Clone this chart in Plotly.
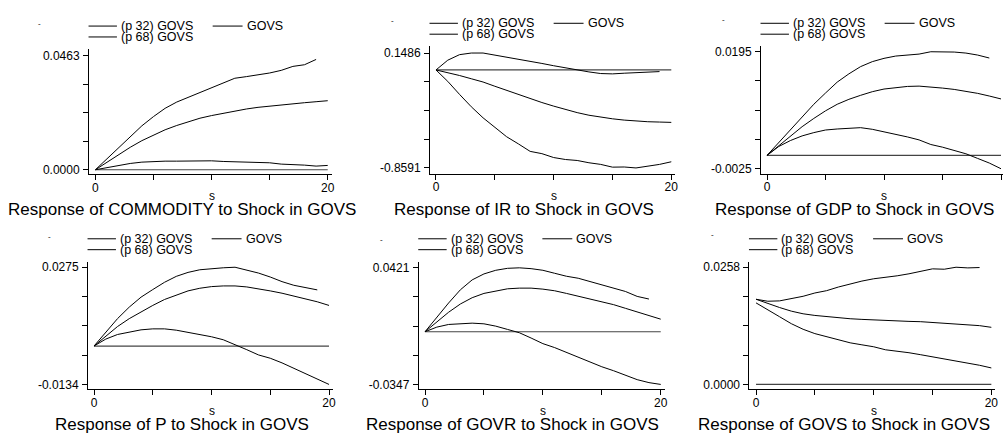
import numpy as np
import plotly.graph_objects as go

W, H = 1006, 434
FONT = "Liberation Sans, Arial, Helvetica, sans-serif"

# ---------------- data ----------------
steps = list(range(21))
steps_hi = list(range(20))          # upper band is drawn through step 19
zero_steps = [0, 20]
zero_vals = [0, 0]

x_tick_vals = [0, 5, 10, 15, 20]
x_tick_text = ["0", "", "", "", "20"]

series_names = ["(p 32) GOVS", "GOVS", "(p 68) GOVS"]

titles = [
    "Response of COMMODITY to Shock in GOVS",
    "Response of IR to Shock in GOVS",
    "Response of GDP to Shock in GOVS",
    "Response of P to Shock in GOVS",
    "Response of GOVR to Shock in GOVS",
    "Response of GOVS to Shock in GOVS",
]
y_label_min = [0.0000, -0.8591, -0.0025, -0.0134, -0.0347, 0.0000]
y_label_max = [0.0463, 0.1486, 0.0195, 0.0275, 0.0421, 0.0258]

commodity_hi = [0, .00442, .0091, .01352, .0178, .02154, .02489, .02743, .0293, .03118,
                .03319, .03519, .03707, .03774, .0384, .03921, .04028, .04188, .04255, .0447]
commodity_mid = [0, .00308, .00616, .0091, .01178, .01405, .01619, .01793, .01954, .02088, .02195,
                 .02288, .02382, .02462, .02529, .02583, .02636, .02676, .02716, .02757, .02797]
commodity_lo = [0, .0008, .00187, .00254, .00308, .00335, .00348, .00348, .00361, .00375, .00361,
                .00335, .00321, .00308, .00281, .00281, .00227, .00214, .00187, .00147, .00174]

ir_hi = [0, .0856, .1342, .1484, .1486, .1313, .1113, .0942, .0771, .0571,
         .0371, .0171, -.0029, -.0171, -.0314, -.0343, -.0285, -.0257, -.0228, -.0143]
ir_mid = [0, -.0228, -.0485, -.0771, -.1056, -.1427, -.1798, -.217, -.2512, -.2855, -.3169,
          -.3483, -.374, -.3968, -.4139, -.4282, -.4396, -.4482, -.4539, -.4568, -.4596]
ir_lo = [0, -.0999, -.2141, -.3226, -.4196, -.5053, -.5852, -.648, -.7137, -.7337, -.7679,
         -.785, -.7936, -.8136, -.8279, -.852, -.8507, -.8591, -.845, -.8279, -.805]

gdp_hi = [0, .00242, .0049, .00725, .0096, .01171, .01376, .01531, .01667, .0176,
          .01822, .01865, .01884, .01902, .01946, .0195, .0194, .01921, .01884, .01828]
gdp_mid = [0, .0018, .00366, .00539, .00694, .00837, .0096, .01053, .01128, .01196, .01246,
           .01277, .01295, .01301, .01289, .01264, .01239, .01208, .01165, .01115, .0106]
gdp_lo = [0, .00167, .00279, .00366, .00428, .00477, .00496, .00508, .00521, .0049, .00446,
          .0039, .00347, .00291, .00205, .00155, .00093, .00031, -.00056, -.00143, -.0025]

p_hi = [0, .00495, .00956, .01359, .01705, .0197, .02224, .02431, .02569, .02661,
        .02707, .0273, .0275, .02661, .02546, .02408, .02247, .0212, .02039, .01959]
p_mid = [0, .00357, .0068, .00956, .01198, .01417, .01624, .01786, .01924, .02016, .02074,
         .02097, .02097, .02062, .02005, .01924, .01843, .01751, .01659, .01544, .01417]
p_lo = [0, .00242, .00403, .00495, .00565, .00599, .00599, .00553, .00484, .00415, .00323,
        .00219, .00058, -.00127, -.00311, -.00426, -.00588, -.00772, -.00956, -.01141, -.0134]

govr_hi = [0, .00957, .01893, .02763, .03416, .03807, .04047, .04177, .0421, .04155,
           .04047, .03851, .03655, .03524, .03307, .03068, .0285, .02654, .02328, .02154]
govr_mid = [0, .00674, .01284, .01828, .02241, .02524, .02698, .02828, .02872, .02872, .02807,
            .02698, .02524, .0235, .02176, .0198, .01784, .01545, .01305, .01066, .00827]
govr_lo = [0, .00305, .00479, .00544, .00566, .00522, .0037, .00152, -.00065, -.00413, -.00783,
           -.01044, -.01371, -.01653, -.0198, -.02306, -.02567, -.0285, -.03155, -.0335, -.0347]

govs_hi = [.01875, .01831, .01839, .0189, .0194, .02013, .02064, .02144, .02217, .02275,
           .02326, .02355, .02391, .02435, .02486, .02544, .02536, .0258, .02565, .02573]
govs_mid = [.01875, .01781, .01693, .01613, .01555, .01519, .0149, .01468, .01446, .01432, .01417,
            .0141, .01395, .01388, .01381, .01366, .01352, .01337, .01315, .01294, .01257]
govs_lo = [.01795, .01635, .0149, .01337, .01214, .01119, .01047, .00974, .00916, .00872, .00829,
           .00763, .00734, .00698, .00654, .0061, .0056, .00523, .00472, .00422, .00363]

panels_hi = [commodity_hi, ir_hi, gdp_hi, p_hi, govr_hi, govs_hi]
panels_mid = [commodity_mid, ir_mid, gdp_mid, p_mid, govr_mid, govs_mid]
panels_lo = [commodity_lo, ir_lo, gdp_lo, p_lo, govr_lo, govs_lo]

# ---------------- layout geometry (pixels) ----------------
geom = [
    dict(L=89.3, x0=95.7, x20=328.7, T=48.3, yt=55.0, yb=170.3, B=175.0, dash=(39.3, 22.7)),
    dict(L=431.3, x0=437.3, x20=673.3, T=45.5, yt=52.5, yb=168.5, B=174.3, dash=(393.3, 20.0)),
    dict(L=763.3, x0=769.3, x20=1004.0, T=45.5, yt=51.0, yb=169.3, B=174.3, dash=(725.3, 19.0)),
    dict(L=88.3, x0=94.3, x20=330.0, T=263.0, yt=268.7, yb=387.0, B=392.0, dash=(50.0, 237.7)),
    dict(L=420.0, x0=426.3, x20=662.7, T=263.0, yt=269.3, yb=387.0, B=392.0, dash=(382.7, 240.3)),
    dict(L=751.7, x0=758.3, x20=994.3, T=263.0, yt=268.7, yb=387.0, B=392.0, dash=(714.3, 236.0)),
]

fig = go.Figure()
shapes, annotations = [], []
line_style = dict(color="black", width=1)

for i, g in enumerate(geom):
    n = "" if i == 0 else str(i + 1)
    vmin, vmax = y_label_min[i], y_label_max[i]
    ppu = (g["x20"] - g["x0"]) / 20.0
    R = min(g["x20"] + 4.0, W)
    xr = [(g["L"] - g["x0"]) / ppu, 20 + (R - g["x20"]) / ppu]
    ppv = (g["yb"] - g["yt"]) / (vmax - vmin)
    yr = [vmin - (g["B"] - g["yb"]) / ppv, vmax + (g["yt"] - g["T"]) / ppv]

    fig.add_trace(go.Scatter(x=zero_steps, y=zero_vals, mode="lines",
                             line=dict(color="#444444", width=1.2), showlegend=False,
                             hoverinfo="skip", xaxis="x" + n, yaxis="y" + n))
    fig.add_trace(go.Scatter(x=steps_hi, y=panels_hi[i], mode="lines", name=series_names[2],
                             line=line_style, showlegend=False, xaxis="x" + n, yaxis="y" + n))
    fig.add_trace(go.Scatter(x=steps, y=panels_mid[i], mode="lines", name=series_names[1],
                             line=line_style, showlegend=False, xaxis="x" + n, yaxis="y" + n))
    fig.add_trace(go.Scatter(x=steps, y=panels_lo[i], mode="lines", name=series_names[0],
                             line=line_style, showlegend=False, xaxis="x" + n, yaxis="y" + n))

    common = dict(showline=True, linecolor="black", linewidth=1, ticks="outside", ticklen=5,
                  tickwidth=1, tickcolor="black", showgrid=False, zeroline=False,
                  tickfont=dict(family=FONT, size=12, color="black"), fixedrange=True)
    fig.update_layout(**{
        "xaxis" + n: dict(domain=[g["L"] / W, R / W], range=xr, tickmode="array",
                          tickvals=x_tick_vals, ticktext=x_tick_text, ticklabelstandoff=-3,
                          anchor="y" + n, **common),
        "yaxis" + n: dict(domain=[1 - g["B"] / H, 1 - g["T"] / H], range=yr, tickmode="array",
                          tickvals=list(np.linspace(vmin, vmax, 5)),
                          ticktext=[f"{vmin:.4f}", "", "", "", f"{vmax:.4f}"],
                          ticklabelstandoff=1, anchor="x" + n, **common),
    })

    # legend (manual)
    L, T = g["L"], g["T"]
    y1, y2 = T - 23.0, T - 12.0
    leg = [((L - 0.5, L + 28), L + 30, y1, series_names[0]),
           ((L + 124, L + 154), L + 156, y1, series_names[1]),
           ((L - 0.5, L + 28), L + 30, y2, series_names[2])]
    for (lx0, lx1), tx, ty, label in leg:
        shapes.append(dict(type="line", xref="paper", yref="paper",
                           x0=lx0 / W, x1=lx1 / W, y0=1 - ty / H, y1=1 - ty / H,
                           line=dict(color="black", width=1)))
        annotations.append(dict(text=label, xref="paper", yref="paper", x=tx / W, y=1 - ty / H,
                                xanchor="left", yanchor="middle", showarrow=False,
                                font=dict(family=FONT, size=12.5, color="black")))
    # small dash mark
    dx, dy = g["dash"]
    annotations.append(dict(text="-", xref="paper", yref="paper", x=dx / W, y=1 - dy / H,
                            xanchor="center", yanchor="middle", showarrow=False,
                            font=dict(family=FONT, size=8, color="black")))
    # x title "s"
    cx = (g["x0"] + g["x20"]) / 2
    row_off = 0 if i < 3 else 217
    annotations.append(dict(text="s", xref="paper", yref="paper", x=cx / W,
                            y=1 - (197.0 + row_off) / H, xanchor="center", yanchor="middle",
                            showarrow=False, font=dict(family=FONT, size=12, color="black")))
    # panel title
    annotations.append(dict(text=titles[i], xref="paper", yref="paper", x=(cx - 30) / W,
                            y=1 - (210.0 + row_off) / H, xanchor="center", yanchor="middle",
                            showarrow=False, font=dict(family=FONT, size=17, color="black")))

fig.update_layout(width=W, height=H, margin=dict(l=0, r=0, t=0, b=0),
                  paper_bgcolor="white", plot_bgcolor="white",
                  shapes=shapes, annotations=annotations, showlegend=False)

fig.write_html("out.html", config={"displayModeBar": False},
               post_script="document.body.style.margin='0';document.body.style.overflow='hidden';")
